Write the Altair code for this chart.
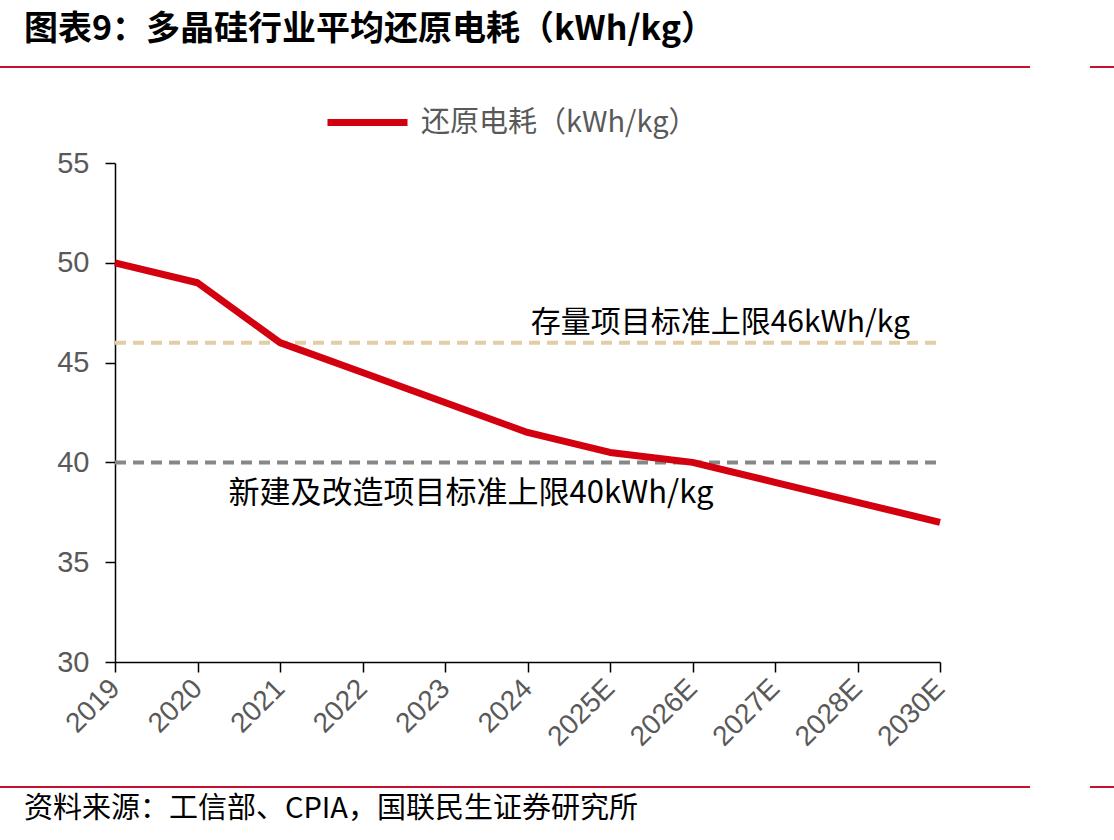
import altair as alt
import pandas as pd

# Average reduction power consumption of polysilicon, kWh/kg
years = ["2019", "2020", "2021", "2022", "2023", "2024",
         "2025E", "2026E", "2027E", "2028E", "2030E"]
consumption = [50, 49, 46, 44.5, 43, 41.5, 40.5, 40, 39, 38, 37]
series_name = "还原电耗（kWh/kg）"

# Standard limits
limit_names = ["存量项目标准上限46kWh/kg", "新建及改造项目标准上限40kWh/kg"]
limit_values = [46, 40]
limit_colors = ["#E2CDA5", "#878787"]

y_ticks = [30, 35, 40, 45, 50, 55]

df = pd.DataFrame({"year": years, "value": consumption, "series": series_name})
limits = pd.DataFrame({"name": limit_names, "value": limit_values,
                       "color": limit_colors,
                       "x0": [years[0]] * 2, "x1": [years[-1]] * 2})

W, H = 825, 499
CJK = "Noto Sans CJK SC"
LATIN = "Liberation Sans"
GRAY = "#595959"
RED = "#D3000F"

x_enc = alt.X("year:N", sort=years, scale=alt.Scale(type="point", padding=0),
              axis=alt.Axis(title=None, labelAngle=-45, labelFontSize=28,
                            labelFont=LATIN, labelColor=GRAY, domainColor="black",
                            tickColor="black", tickSize=10, labelPadding=12,
                            domainWidth=1.5, tickWidth=1.5))
y_scale = alt.Scale(domain=[30, 55], nice=False, zero=False)
y_axis = alt.Axis(title=None, values=y_ticks, labelFontSize=29, labelFont=LATIN,
                  labelColor=GRAY, domainColor="black", tickColor="black",
                  tickSize=10, labelPadding=16, grid=False,
                  domainWidth=1.5, tickWidth=1.5)

base = alt.Chart(df)

line = base.mark_line(strokeWidth=7, strokeCap="butt", strokeJoin="round").encode(
    x=x_enc,
    y=alt.Y("value:Q", scale=y_scale, axis=y_axis),
    color=alt.Color("series:N", scale=alt.Scale(domain=[series_name], range=[RED]),
                    legend=alt.Legend(title=None, orient="none", legendX=209,
                                      legendY=-84, symbolType="stroke",
                                      symbolStrokeWidth=7, symbolSize=6400,
                                      labelFontSize=29, labelFont=CJK,
                                      labelColor=GRAY, labelOffset=10,
                                      labelLimit=0)),
)

lim_base = alt.Chart(limits)
limit_rules = lim_base.mark_rule(strokeWidth=4, strokeDash=[11, 7]).encode(
    x=alt.X("x0:N", sort=years, scale=alt.Scale(type="point", padding=0)),
    x2="x1:N",
    y=alt.Y("value:Q", scale=y_scale),
    color=alt.Color("color:N", scale=None),
)

upper_label = lim_base.transform_filter(alt.datum.value == 46).mark_text(
    font=CJK, fontSize=30, color="black", align="right", baseline="bottom", dy=-5
).encode(x=alt.value(795), y=alt.Y("value:Q", scale=y_scale), text="name:N")

lower_label = lim_base.transform_filter(alt.datum.value == 40).mark_text(
    font=CJK, fontSize=31, color="black", align="center", baseline="top", dy=17
).encode(x=alt.value(356), y=alt.Y("value:Q", scale=y_scale), text="name:N")

# Page furniture: heading, separators and source note
title = alt.Chart(pd.DataFrame({"t": ["图表9：多晶硅行业平均还原电耗（kWh/kg）"]})).mark_text(
    font=CJK, fontSize=34, fontWeight="bold", color="black", align="left",
    baseline="middle").encode(x=alt.value(-91), y=alt.value(-133), text="t:N")

source = alt.Chart(pd.DataFrame({"t": ["资料来源：工信部、CPIA，国联民生证券研究所"]})).mark_text(
    font=CJK, fontSize=29, color="black", align="left",
    baseline="middle").encode(x=alt.value(-91), y=alt.value(646), text="t:N")

sep = pd.DataFrame({"a": [-115, 975], "b": [915, 1000]})
top_rule = alt.Chart(sep).mark_rule(color="#C8102E", strokeWidth=2).encode(
    x=alt.X("a:Q", scale=None), x2="b:Q", y=alt.value(-96))
bottom_rule = alt.Chart(sep).mark_rule(color="#C8102E", strokeWidth=2).encode(
    x=alt.X("a:Q", scale=None), x2="b:Q", y=alt.value(624))

chart = alt.layer(
    limit_rules, line, upper_label, lower_label, title, source, top_rule, bottom_rule
).properties(
    width=W, height=H,
    background="white",
    autosize=alt.AutoSizeParams(type="none"),
    padding={"left": 115, "top": 163, "right": 174, "bottom": 178},
).configure_view(stroke=None, strokeWidth=0)

chart.save("out.html", embed_options={"renderer": "svg", "actions": False})
